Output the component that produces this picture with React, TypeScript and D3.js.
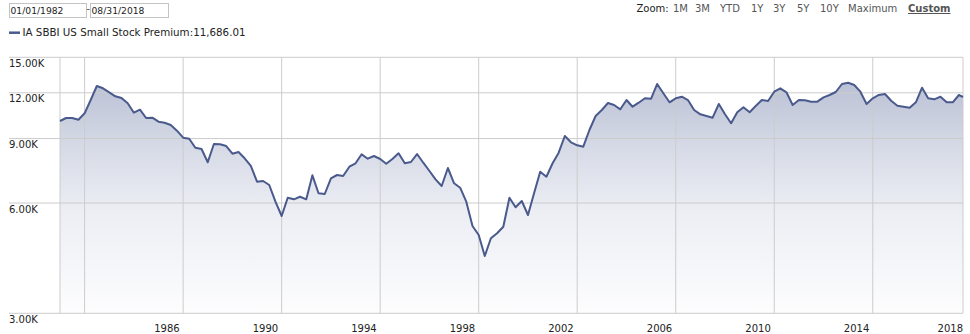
import React from "react";
import * as d3 from "d3";

// ---- Data (quarterly, starting 1982-01-01) ----
const seriesName = "IA SBBI US Small Stock Premium";
const startDateText = "01/01/1982";
const endDateText = "08/31/2018";
const lastValue = 11686.01;

const premium: number[] = [
  // 1982
  10050, 10242, 10242, 10133,
  // 1983
  10548, 11468, 12524, 12344,
  // 1984
  12038, 11738, 11613, 11234,
  // 1985
  10589, 10790, 10242, 10262,
  // 1986
  10006, 9943, 9801, 9455,
  // 1987
  9048, 8991, 8497, 8428,
  // 1988
  7752, 8697, 8680, 8588,
  // 1989
  8182, 8270, 7950, 7574,
  // 1990
  6861, 6891, 6721, 6051,
  // 1991
  5531, 6205, 6143, 6244,
  // 1992
  6143, 7143, 6380, 6351,
  // 1993
  7010, 7157, 7112, 7541,
  // 1994
  7704, 8151, 7929, 8065,
  // 1995
  7914, 7684, 7914, 8203,
  // 1996
  7704, 7767, 8166, 7732,
  // 1997
  7340, 6966, 6679, 7479,
  // 1998
  6794, 6608, 6051, 5194,
  // 1999
  4908, 4301, 4808, 4961,
  // 2000
  5171, 6205, 5841, 6078,
  // 2001
  5565, 6380, 7307, 7080,
  // 2002
  7704, 8234, 9146, 8790,
  // 2003
  8625, 8550, 9497, 10371,
  // 2004
  10770, 11254, 11114, 10816,
  // 2005
  11468, 10995, 11275, 11592,
  // 2006
  11562, 12683, 11962, 11304,
  // 2007
  11592, 11709, 11468, 10770,
  // 2008
  10482, 10371, 10262, 11184,
  // 2009
  10482, 9906, 10615, 10953,
  // 2010
  10615, 11043, 11468, 11397,
  // 2011
  12083, 12344, 12038, 11114,
  // 2012
  11468, 11448, 11348, 11348,
  // 2013
  11664, 11835, 12060, 12683,
  // 2014
  12786, 12602, 12083, 11184,
  // 2015
  11592, 11835, 11910, 11418,
  // 2016
  11064, 10995, 10926, 11304,
  // 2017
  12390, 11592, 11518, 11709,
  // 2018
  11304, 11304, 11835,
];

const yTicks: number[] = [3000, 6000, 9000, 12000, 15000];
const xLabelYears: number[] = [1986, 1990, 1994, 1998, 2002, 2006, 2010, 2014, 2018];
const xGridYears: number[] = [1983, 1987, 1991, 1995, 1999, 2003, 2007, 2011, 2015];
const zoomOptions: string[] = ["1M", "3M", "YTD", "1Y", "3Y", "5Y", "10Y", "Maximum"];
const zoomSelected = "Custom";

type Pt = { date: Date; value: number };

const points: Pt[] = premium.map((v, i) => ({
  date: new Date(1982 + Math.floor(i / 4), (i % 4) * 3, 1),
  value: v,
}));
points.push({ date: new Date(2018, 7, 31), value: lastValue });

const W = 970;
const H = 334;
const FONT = "'DejaVu Sans', Verdana, sans-serif";

export default function App() {
  const left = 60;
  const right = 963;
  const top = 57.3;
  const bottom = 313.3;

  const x = d3
    .scaleTime()
    .domain([new Date(1982, 0, 1), new Date(2018, 7, 31)])
    .range([left, right]);
  const y = d3.scaleLog().domain([3000, 15000]).range([bottom, top]);

  const line = d3
    .line<Pt>()
    .x((d) => x(d.date))
    .y((d) => y(d.value));
  const area = d3
    .area<Pt>()
    .x((d) => x(d.date))
    .y0(bottom)
    .y1((d) => y(d.value));

  const fmt = d3.format(",.2f");
  const zoomXs = [673, 695, 720, 751, 773, 797, 820, 848];

  return (
    <svg
      width={W}
      height={H}
      style={{ position: "absolute", left: 0, top: 0, background: "#fff" }}
      fontFamily={FONT}
    >
      <defs>
        <linearGradient id="fillGrad" gradientUnits="userSpaceOnUse" x1={0} y1={top} x2={0} y2={bottom}>
          <stop offset="0%" stopColor="rgb(176,184,206)" />
          <stop offset="35%" stopColor="rgb(214,218,230)" />
          <stop offset="60%" stopColor="rgb(236,238,244)" />
          <stop offset="100%" stopColor="rgb(253,253,254)" />
        </linearGradient>
      </defs>

      {/* date range inputs */}
      <rect x={9.5} y={3.5} width={77} height={14} fill="#fff" stroke="#c4c4c4" />
      <text x={10.5} y={14} fontSize={9.2} fill="#222">{startDateText}</text>
      <text x={86.5} y={12} fontSize={9.2} fill="#222">-</text>
      <rect x={90.5} y={3.5} width={78} height={14} fill="#fff" stroke="#c4c4c4" />
      <text x={91.5} y={14} fontSize={9.2} fill="#222">{endDateText}</text>

      {/* zoom options */}
      <text x={636.5} y={12} fontSize={10} fill="#222">Zoom:</text>
      {zoomOptions.map((z, i) => (
        <text key={z} x={zoomXs[i]} y={12} fontSize={10} fill="#555">{z}</text>
      ))}
      <text x={908} y={12} fontSize={10} fontWeight="bold" fill="#555" textDecoration="underline">
        {zoomSelected}
      </text>

      {/* legend */}
      <line x1={9} x2={20} y1={32.7} y2={32.7} stroke="#4a5a8c" strokeWidth={2.5} />
      <text x={22.5} y={36.2} fontSize={10.3} fill="#222">
        {seriesName}:{fmt(lastValue)}
      </text>

      {/* area */}
      <path d={area(points) || ""} fill="url(#fillGrad)" />

      {/* horizontal gridlines + labels */}
      {yTicks.map((t) => (
        <g key={t}>
          <line x1={9} x2={right} y1={y(t)} y2={y(t)} stroke="#cccccc" strokeWidth={1} />
          <text x={9} y={y(t) + 9.5} fontSize={10} fill="#222">
            {(t / 1000).toFixed(2)}K
          </text>
        </g>
      ))}

      {/* vertical gridlines */}
      {[left, ...xGridYears.map((yr) => x(new Date(yr, 0, 1))), right].map((gx, i) => (
        <line key={i} x1={gx} x2={gx} y1={top} y2={bottom} stroke="#cccccc" strokeWidth={1} />
      ))}

      {/* x labels */}
      {xLabelYears.map((yr) => (
        <text
          key={yr}
          x={Math.min(x(new Date(yr + 1, 0, 1)) - 3.5, right)}
          y={331.5}
          fontSize={10}
          fill="#222"
          textAnchor="end"
        >
          {yr}
        </text>
      ))}

      {/* line */}
      <path d={line(points) || ""} fill="none" stroke="#4a5a8c" strokeWidth={2} strokeLinejoin="round" />
    </svg>
  );
}
